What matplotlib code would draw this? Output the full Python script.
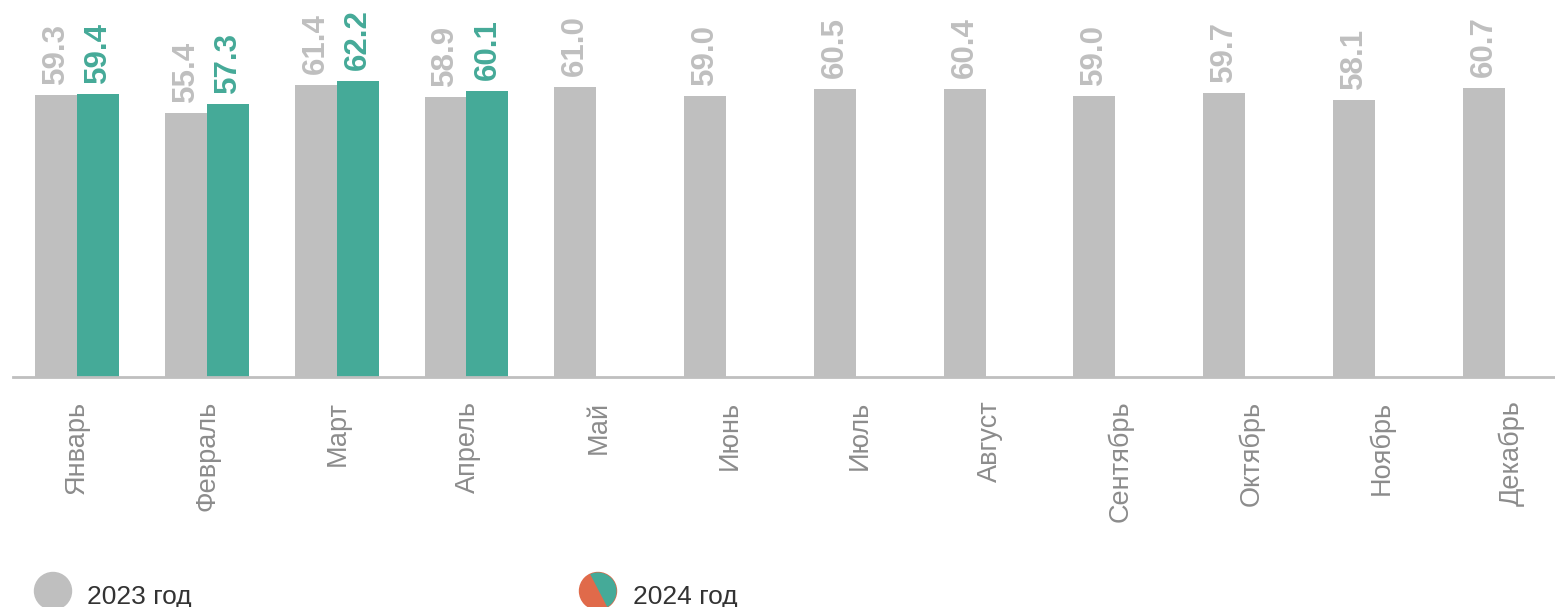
import numpy as np
import matplotlib.pyplot as plt
from matplotlib.patches import Circle

months = ["Январь", "Февраль", "Март", "Апрель", "Май", "Июнь",
          "Июль", "Август", "Сентябрь", "Октябрь", "Ноябрь", "Декабрь"]
vals_2023 = [59.3, 55.4, 61.4, 58.9, 61.0, 59.0, 60.5, 60.4, 59.0, 59.7, 58.1, 60.7]
vals_2024 = [59.4, 57.3, 62.2, 60.1]

GRAY = "#BFBFBF"
TEAL = "#45AA98"
ORANGE = "#E06A4A"

plt.rcParams['font.family'] = ['Liberation Sans', 'DejaVu Sans']

fig = plt.figure(figsize=(15.55, 6.07), dpi=100)
ax = fig.add_axes([0.0084, 0.379, 0.9916, 0.621])

w = 0.323
x = np.arange(len(months))
x24 = np.arange(len(vals_2024))
ax.bar(x - w / 2, vals_2023, width=w, color=GRAY)
ax.bar(x24 + w / 2, vals_2024, width=w, color=TEAL)

for xi, v in zip(x - w / 2, vals_2023):
    ax.annotate(f"{v:.1f}", (xi, v), xytext=(0, 8), textcoords="offset points",
                rotation=90, ha="center", va="bottom", fontsize=22.5,
                fontweight="bold", color=GRAY)
for xi, v in zip(x24 + w / 2, vals_2024):
    ax.annotate(f"{v:.1f}", (xi, v), xytext=(0, 8), textcoords="offset points",
                rotation=90, ha="center", va="bottom", fontsize=22.5,
                fontweight="bold", color=TEAL)

ax.set_xlim(-0.493, 11.387)
ax.set_ylim(0, 79.2)
# month labels sit a touch right of the group centre, more so towards the end
ax.set_xticks(x + 0.005 * x)
ax.set_xticklabels(months, rotation=90, fontsize=19.5, color="#8C8C8C", va="top")
ax.tick_params(axis="x", length=0, pad=17)
ax.set_yticks([])
for s in ["top", "right", "left"]:
    ax.spines[s].set_visible(False)
ax.spines["bottom"].set_color(GRAY)
ax.spines["bottom"].set_linewidth(2)

# legend
lax = fig.add_axes([0, 0, 1, 1], facecolor="none")
lax.set_xlim(0, 1555)
lax.set_ylim(607, 0)
lax.axis("off")
lax.add_patch(Circle((53, 591), 18.5, color=GRAY))
lax.text(87, 604, "2023 год", fontsize=19, color="#333333", va="baseline")
lax.add_patch(Circle((598, 591), 18.5, color=ORANGE))
th = np.linspace(np.deg2rad(-60), np.deg2rad(115), 60)
lax.fill(598 + 18.5 * np.cos(th), 591 - 18.5 * np.sin(th), color=TEAL, lw=0)
lax.text(633, 604, "2024 год", fontsize=19, color="#333333", va="baseline")

fig.savefig("out.png", dpi=100)
